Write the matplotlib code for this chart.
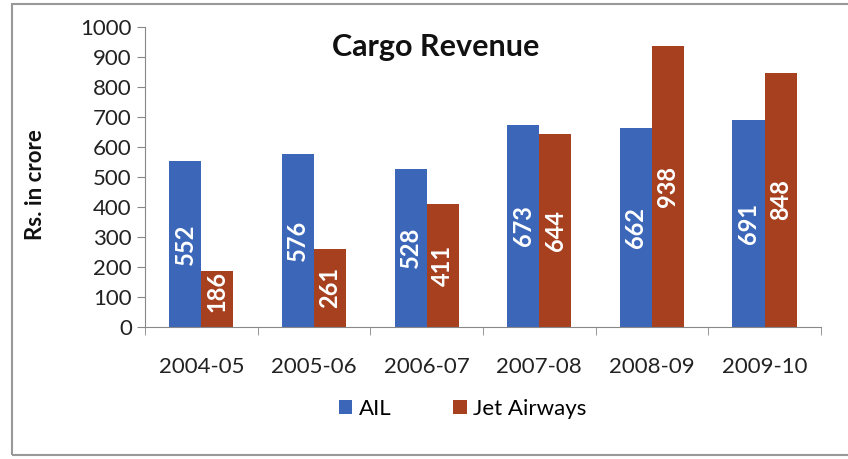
import matplotlib.pyplot as plt
import numpy as np

# Cargo revenue, Rs. in crore
years = ['2004-05', '2005-06', '2006-07', '2007-08', '2008-09', '2009-10']
ail = [552, 576, 528, 673, 662, 691]
jet = [186, 261, 411, 644, 938, 848]

plt.rcParams['font.family'] = ['Lato', 'DejaVu Sans']

blue = '#3C67B9'
brown = '#A6401F'

fig = plt.figure(figsize=(8.48, 4.59), dpi=100)
ax = fig.add_axes([0.171, 0.288, 0.797, 0.653])

x = np.arange(len(years))
w = 0.285
ax.bar(x - w / 2, ail, w, color=blue, label='AIL')
ax.bar(x + w / 2, jet, w, color=brown, label='Jet Airways')

# value labels, written vertically in the middle of each bar
for i in range(len(years)):
    for xpos, v in ((x[i] - w / 2, ail[i]), (x[i] + w / 2, jet[i])):
        ax.text(xpos, max(v / 2, 118), str(v), rotation=90, ha='center', va='center',
                color='white', fontsize=17, fontweight='bold')

ax.set_xlim(-0.5, len(years) - 0.5)
ax.set_ylim(0, 1000)
ax.set_yticks(range(0, 1001, 100))
ax.tick_params(axis='y', labelsize=16, length=6, color='#888888', labelcolor='#222222')
ax.set_xticks(x)
ax.set_xticklabels(years)
ax.tick_params(axis='x', labelsize=16, length=0, pad=22, labelcolor='#222222')
ax.set_xticks(np.arange(-0.5, len(years)), minor=True)
ax.tick_params(axis='x', which='minor', length=6, color='#888888')

for s in ('top', 'right'):
    ax.spines[s].set_visible(False)
for s in ('left', 'bottom'):
    ax.spines[s].set_color('#888888')

fig.text(35 / 848, 1 - 185 / 459, 'Rs. in crore', rotation=90, ha='center', va='center',
         fontsize=16, fontweight='bold', color='#111111')
ax.text(0.43, 0.935, 'Cargo Revenue', transform=ax.transAxes, ha='center', va='center',
        fontsize=22, fontweight='bold', color='#111111')

ax.legend(loc='center', bbox_to_anchor=(0.47, -0.275), ncol=2, frameon=False,
          fontsize=16, handlelength=0.6, handleheight=0.6, handletextpad=0.3,
          columnspacing=2.8)

# chart border
fig.patches.append(plt.Rectangle((12 / 848, 4 / 459), 1.0, 1 - 8 / 459,
                                 transform=fig.transFigure, fill=False,
                                 edgecolor='#999999', lw=1.5))

fig.savefig('out.png', dpi=100)
